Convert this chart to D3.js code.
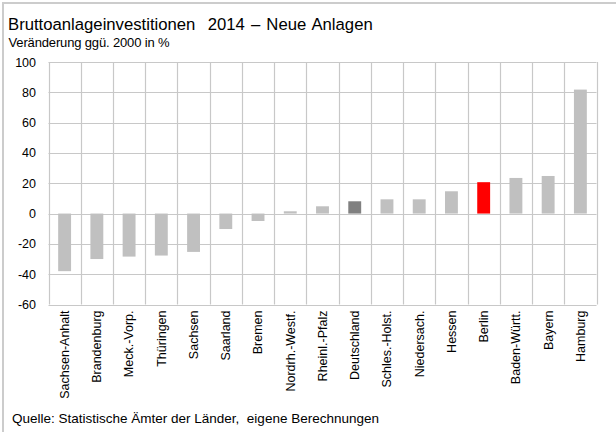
<!DOCTYPE html>
<html><head><meta charset="utf-8">
<script src="https://cdn.jsdelivr.net/npm/d3@7"></script>
<style>
html,body{margin:0;padding:0;background:#fff;}
svg{display:block;font-family:"Liberation Sans",Arial,sans-serif;}
text{white-space:pre;}
</style></head>
<body>
<svg id="chart" width="616" height="432"></svg>
<script>
const categories = ["Sachsen-Anhalt","Brandenburg","Meck.-Vorp.","Thüringen","Sachsen","Saarland","Bremen","Nordrh.-Westf.","Rheinl.-Pfalz","Deutschland","Schles.-Holst.","Niedersach.","Hessen","Berlin","Baden-Württ.","Bayern","Hamburg"];
const values = [-38, -30, -28.4, -27.7, -25.3, -10.2, -4.9, 1.5, 4.8, 8.1, 9.4, 9.4, 14.7, 20.7, 23.5, 24.8, 81.8];
const yTicks = [100, 80, 60, 40, 20, 0, -20, -40, -60];
const title = "Bruttoanlageinvestitionen  2014 – Neue Anlagen";
const subtitle = "Veränderung ggü. 2000 in %";
const source = "Quelle: Statistische Ämter der Länder,  eigene Berechnungen";

const svg = d3.select("#chart");
const pLeft = 48.5, pRight = 596.5, pTop = 62, pBottom = 304.5;

svg.append("rect").attr("x", 3).attr("y", 3).attr("width", 640).attr("height", 460)
  .attr("fill", "none").attr("stroke", "#cccccc").attr("stroke-width", 2);

svg.append("text").attr("x", 8).attr("y", 29.5).attr("font-size", 16.7).attr("fill", "#000")
  .attr("xml:space", "preserve").attr("word-spacing", 1.5).text(title);
svg.append("text").attr("x", 8.5).attr("y", 46.5).attr("font-size", 13).attr("fill", "#000")
  .attr("letter-spacing", -0.15).text(subtitle);

const x = d3.scaleBand().domain(categories).range([pLeft, pRight]).paddingInner(0.6).paddingOuter(0.3);
const y = d3.scaleLinear().domain([-60, 100]).range([pBottom, pTop]);

const step = x.step();
const g = svg.append("g");
g.selectAll("line.h").data(yTicks).join("line")
  .attr("x1", pLeft).attr("x2", pRight)
  .attr("y1", d => Math.round(y(d)) + 0.5).attr("y2", d => Math.round(y(d)) + 0.5)
  .attr("stroke", "#c8c8c8").attr("stroke-width", 1.2);
g.selectAll("line.v").data(d3.range(categories.length + 1)).join("line")
  .attr("x1", i => Math.round(pLeft + i * step) + 0.5).attr("x2", i => Math.round(pLeft + i * step) + 0.5)
  .attr("y1", pTop).attr("y2", pBottom)
  .attr("stroke", "#c8c8c8").attr("stroke-width", 1.2);

const color = c => c === "Berlin" ? "#ff0000" : (c === "Deutschland" ? "#808080" : "#c0c0c0");
svg.append("g").selectAll("rect").data(categories).join("rect")
  .attr("x", c => x(c))
  .attr("width", x.bandwidth())
  .attr("y", (c, i) => y(Math.max(0, values[i])))
  .attr("height", (c, i) => Math.abs(y(values[i]) - y(0)))
  .attr("fill", color);

const yAxis = d3.axisLeft(y).tickValues(yTicks).tickSize(0).tickPadding(0).tickFormat(d => String(d));
const ya = svg.append("g").attr("transform", `translate(36,0)`).call(yAxis);
ya.select(".domain").remove();
ya.selectAll("text").attr("font-size", 12.5).attr("fill", "#000").attr("font-family", "Liberation Sans, Arial, sans-serif");

const xAxis = d3.axisBottom(x).tickSize(0).tickPadding(0);
const xa = svg.append("g").attr("transform", `translate(0,${pBottom + 6})`).call(xAxis);
xa.select(".domain").remove();
xa.selectAll("text")
  .attr("font-size", 12.5).attr("fill", "#000").attr("font-family", "Liberation Sans, Arial, sans-serif")
  .attr("transform", "rotate(-90)").attr("text-anchor", "end")
  .attr("x", 0).attr("y", 0).attr("dy", "0.35em").attr("dx", 0);

svg.append("text").attr("x", 12).attr("y", 423).attr("font-size", 13.5).attr("fill", "#000")
  .attr("xml:space", "preserve").text(source);
</script>
</body></html>
